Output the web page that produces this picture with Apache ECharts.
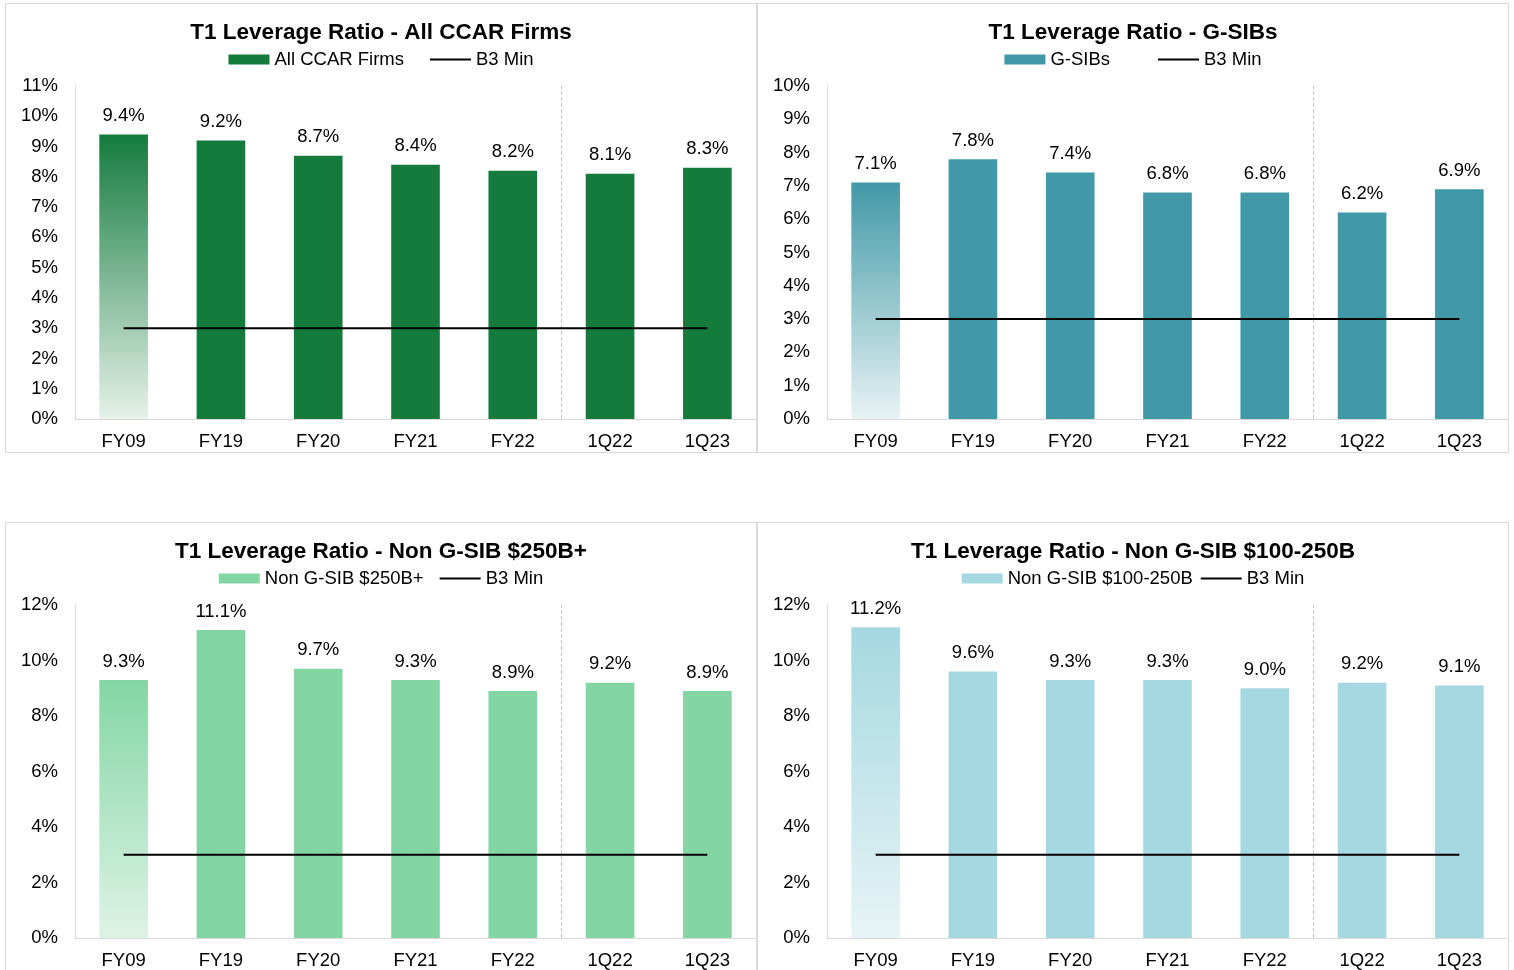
<!DOCTYPE html>
<html>
<head>
<meta charset="utf-8">
<script src="https://cdn.jsdelivr.net/npm/echarts@6/dist/echarts.min.js"></script>
<style>
  html, body { margin: 0; padding: 0; background: #fff; }
  body { width: 1514px; height: 970px; position: relative; overflow: hidden; }
  .panel { position: absolute; box-sizing: border-box; width: 752px; height: 450px; border: 1px solid #d9d9d9; }
</style>
</head>
<body>
<div class="panel" id="p1" style="left:5px;top:3px;"></div>
<div class="panel" id="p2" style="left:757px;top:3px;"></div>
<div class="panel" id="p3" style="left:5px;top:522px;"></div>
<div class="panel" id="p4" style="left:757px;top:522px;"></div>
<script>
// categories shared by all four panels
var periods = ['FY09', 'FY19', 'FY20', 'FY21', 'FY22', '1Q22', '1Q23']

// T1 leverage ratio (%) per group
var allCcar = [9.4, 9.2, 8.7, 8.4, 8.2, 8.1, 8.3]
var gSibs = [7.1, 7.8, 7.4, 6.8, 6.8, 6.2, 6.9]
var nonGsib250 = [9.3, 11.1, 9.7, 9.3, 8.9, 9.2, 8.9]
var nonGsib100 = [11.2, 9.6, 9.3, 9.3, 9.0, 9.2, 9.1]

// basel 3 minimum
var b3Min = [3, 3, 3, 3, 3, 3, 3]

// annual vs quarterly split sits before this category index
var splitBefore = 5

var FONT = "'Liberation Sans', Arial, sans-serif"
var LINE_ICON = 'path://M0,0L40,0L40,2L0,2Z'

function makeChart (id, title, name, values, color, fadeColor, yMax, yStep, legendGap) {
  var chart = echarts.init(document.getElementById(id))
  // FY09 bar fades out toward the bottom
  var barData = values.map(function (v, i) {
    if (i !== 0) return v
    return {
      value: v,
      itemStyle: {
        color: new echarts.graphic.LinearGradient(0, 0, 0, 1, [
          { offset: 0, color: color },
          { offset: 1, color: fadeColor }
        ])
      }
    }
  })
  var option = {
    animation: false,
    textStyle: { fontFamily: FONT },
    title: {
      text: title,
      left: 'center',
      top: 17,
      padding: 0,
      textStyle: { fontSize: 22.5, fontWeight: 'bold', color: '#000', fontFamily: FONT }
    },
    legend: {
      data: [{ name: name, icon: 'rect' }, { name: 'B3 Min', icon: LINE_ICON }],
      top: 41,
      left: 'center',
      itemGap: legendGap,
      itemWidth: 41,
      itemHeight: 10,
      textStyle: { fontSize: 18.5, color: '#000', fontFamily: FONT }
    },
    grid: { left: 69, right: 0, top: 82, bottom: 33 },
    xAxis: [
      {
        type: 'category',
        data: periods,
        axisLine: { lineStyle: { color: '#d9d9d9', width: 1 } },
        axisTick: { show: false },
        axisLabel: { fontSize: 18.5, color: '#000', margin: 13, fontFamily: FONT },
        splitLine: { show: false }
      },
      {
        // hidden helper axis, one unit per category, for the dashed divider
        type: 'value',
        min: 0,
        max: periods.length,
        show: false
      }
    ],
    yAxis: {
      type: 'value',
      min: 0,
      max: yMax,
      interval: yStep,
      axisLine: { show: true, lineStyle: { color: '#d9d9d9', width: 1 } },
      axisTick: { show: false },
      splitLine: { show: false },
      axisLabel: { fontSize: 18.5, color: '#000', margin: 17, formatter: '{value}%', fontFamily: FONT }
    },
    series: [
      {
        name: name,
        type: 'bar',
        data: barData,
        barWidth: '50%',
        itemStyle: { color: color },
        label: {
          show: true,
          position: 'top',
          distance: 9,
          fontSize: 18.5,
          color: '#000',
          fontFamily: FONT,
          formatter: function (p) { return p.value.toFixed(1) + '%' }
        }
      },
      {
        name: 'B3 Min',
        type: 'line',
        data: b3Min,
        symbol: 'none',
        itemStyle: { color: '#000' },
        lineStyle: { color: '#000', width: 2 },
        z: 5
      },
      {
        name: 'divider',
        type: 'line',
        xAxisIndex: 1,
        data: [],
        silent: true,
        markLine: {
          symbol: ['none', 'none'],
          silent: true,
          label: { show: false },
          lineStyle: { color: '#c8c8c8', type: 'dashed', width: 1 },
          data: [{ xAxis: splitBefore }]
        },
        z: 1
      }
    ]
  }
  chart.setOption(option)
  return chart
}

makeChart('p1', 'T1 Leverage Ratio - All CCAR Firms', 'All CCAR Firms', allCcar, '#147b3d', '#e6f2ea', 11, 1, 26)
makeChart('p2', 'T1 Leverage Ratio - G-SIBs', 'G-SIBs', gSibs, '#4199a7', '#e8f3f5', 10, 1, 48)
makeChart('p3', 'T1 Leverage Ratio - Non G-SIB $250B+', 'Non G-SIB $250B+', nonGsib250, '#83d6a3', '#def3e6', 12, 2, 16)
makeChart('p4', 'T1 Leverage Ratio - Non G-SIB $100-250B', 'Non G-SIB $100-250B', nonGsib100, '#a5d8e1', '#e7f4f6', 12, 2, 8)
</script>
</body>
</html>
